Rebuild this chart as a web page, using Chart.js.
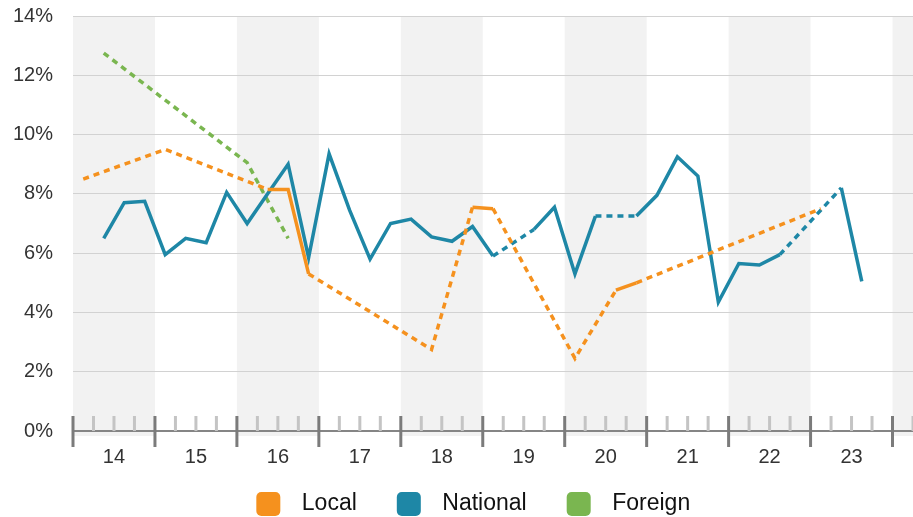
<!DOCTYPE html>
<html>
<head>
<meta charset="utf-8">
<script src="https://cdn.jsdelivr.net/npm/chart.js@4/dist/chart.umd.min.js"></script>
<style>
  html, body { margin: 0; padding: 0; background: #fff; }
  #wrap { width: 913px; height: 517px; }
</style>
</head>
<body>
<div id="wrap"><canvas id="c" width="913" height="517"></canvas></div>
<script>
// ---- data ----
const quarters = [
  '14Q1','14Q2','14Q3','14Q4','15Q1','15Q2','15Q3','15Q4',
  '16Q1','16Q2','16Q3','16Q4','17Q1','17Q2','17Q3','17Q4',
  '18Q1','18Q2','18Q3','18Q4','19Q1','19Q2','19Q3','19Q4',
  '20Q1','20Q2','20Q3','20Q4','21Q1','21Q2','21Q3','21Q4',
  '22Q1','22Q2','22Q3','22Q4','23Q1','23Q2','23Q3','23Q4',
  '24Q1'
];
const yearLabels = ['14','15','16','17','18','19','20','21','22','23'];
const seriesNames = ['Local','National','Foreign'];

const local = [
  8.5, null, null, null, 9.5, null, null, null,
  null, 8.15, 8.15, 5.3, null, null, null, null,
  null, 2.75, null, 7.55, 7.5, null, null, null,
  2.45, null, 4.75, 5.0, null, null, null, null,
  null, null, null, null, 7.5, null, null, null,
  null
];
const national = [
  null, 6.5, 7.7, 7.75, 5.95, 6.5, 6.35, 8.05,
  7.0, 8.0, 9.0, 5.85, 9.35, 7.45, 5.8, 7.0,
  7.15, 6.55, 6.4, 6.9, 5.9, null, 6.8, 7.55,
  5.3, 7.25, null, 7.25, 7.95, 9.25, 8.6, 4.35,
  5.65, 5.6, 5.95, null, null, 8.2, 5.05, null,
  null
];
const foreign = [
  null, 12.75, null, null, null, null, null, null,
  9.05, null, 6.5, null, null, null, null, null,
  null, null, null, null, null, null, null, null,
  null, null, null, null, null, null, null, null,
  null, null, null, null, null, null, null, null,
  null
];

// ---- styling ----
const COLORS = ['#F5911E', '#1E87A6', '#7AB650'];
const FIRST_YEAR = 14;
const PER_YEAR = 4;
const FONT = 'Liberation Sans, Arial, Helvetica, sans-serif';
const LEGEND_LEAD = 15.5;   // empty space before each legend swatch
const LEGEND_SHIFT = 9;     // horizontal nudge of the legend block
const SWATCH = 24;

function toPoints(arr) {
  return arr.map((v, i) => ({ x: FIRST_YEAR + (i + 0.5) / PER_YEAR, y: v, q: quarters[i] }));
}
const gapDash = ctx => (ctx.p0.skip || ctx.p1.skip) ? [6, 5] : undefined;

function makeDataset(label, arr, color) {
  return {
    label: label,
    data: toPoints(arr),
    borderColor: color,
    backgroundColor: color,
    borderWidth: 3.5,
    pointRadius: 0,
    pointHoverRadius: 0,
    tension: 0,
    spanGaps: true,
    borderJoinStyle: 'miter',
    segment: { borderDash: gapDash }
  };
}

const axisDecor = {
  id: 'axisDecor',
  afterLayout(chart) {
    if (chart.legend) {
      chart.legend.left += LEGEND_SHIFT;
      chart.legend.right += LEGEND_SHIFT;
    }
  },
  beforeDraw(chart) {
    const { ctx, chartArea: a, scales: { x } } = chart;
    ctx.save();
    ctx.fillStyle = '#f2f2f2';
    for (let i = 0; i < yearLabels.length + 1; i += 2) {
      const l = x.getPixelForValue(FIRST_YEAR + i);
      const r = Math.min(x.getPixelForValue(FIRST_YEAR + i + 1), a.right);
      if (r > l) ctx.fillRect(l, a.top, r - l, a.bottom + 5 - a.top);
    }
    ctx.restore();
  },
  beforeDatasetsDraw(chart) {
    const { ctx, chartArea: a, scales: { x } } = chart;
    ctx.save();
    // axis line
    ctx.strokeStyle = '#858585';
    ctx.lineWidth = 2;
    ctx.beginPath();
    ctx.moveTo(a.left, a.bottom);
    ctx.lineTo(a.right, a.bottom);
    ctx.stroke();
    // minor ticks
    ctx.strokeStyle = '#c4c4c4';
    ctx.lineWidth = 3;
    for (let i = 0; i <= yearLabels.length; i++) {
      for (let q = 1; q < PER_YEAR; q++) {
        const px = x.getPixelForValue(FIRST_YEAR + i + q / PER_YEAR);
        if (px > a.right) continue;
        ctx.beginPath();
        ctx.moveTo(px, a.bottom - 15);
        ctx.lineTo(px, a.bottom);
        ctx.stroke();
      }
    }
    // major ticks
    ctx.strokeStyle = '#7b7b7b';
    for (let i = 0; i <= yearLabels.length; i++) {
      const px = x.getPixelForValue(FIRST_YEAR + i);
      if (px > a.right + 1) continue;
      ctx.beginPath();
      ctx.moveTo(px, a.bottom - 15);
      ctx.lineTo(px, a.bottom + 16);
      ctx.stroke();
    }
    ctx.restore();
  },
  afterDraw(chart) {
    const lg = chart.legend;
    if (!lg || !lg.legendHitBoxes) return;
    const { ctx } = chart;
    ctx.save();
    lg.legendHitBoxes.forEach((hb, i) => {
      const top = hb.top + (hb.height - SWATCH) / 2;
      const left = hb.left + LEGEND_LEAD;
      ctx.fillStyle = COLORS[i];
      ctx.beginPath();
      if (ctx.roundRect) ctx.roundRect(left, top, SWATCH, SWATCH, 5);
      else ctx.rect(left, top, SWATCH, SWATCH);
      ctx.fill();
    });
    ctx.restore();
  }
};

new Chart(document.getElementById('c'), {
  type: 'line',
  data: {
    datasets: [
      makeDataset(seriesNames[0], local, COLORS[0]),
      makeDataset(seriesNames[1], national, COLORS[1]),
      makeDataset(seriesNames[2], foreign, COLORS[2])
    ]
  },
  options: {
    responsive: false,
    animation: false,
    devicePixelRatio: 1,
    layout: { padding: { top: 16, right: 0, bottom: 0, left: 0 } },
    scales: {
      x: {
        type: 'linear',
        min: FIRST_YEAR,
        max: FIRST_YEAR + (quarters.length) / PER_YEAR,
        grid: { display: false, drawTicks: false },
        border: { display: false },
        afterBuildTicks(axis) {
          axis.ticks = yearLabels.map((_, i) => ({ value: FIRST_YEAR + i + 0.5 }));
        },
        afterFit(scale) { scale.height = 36.5; },
        ticks: {
          autoSkip: false,
          maxRotation: 0,
          padding: 14.5,
          color: '#333',
          font: { family: FONT, size: 20 },
          callback: (v, i) => yearLabels[i]
        }
      },
      y: {
        min: 0,
        max: 14,
        grid: { color: '#d2d2d2', lineWidth: 1, drawTicks: true, tickLength: 20, tickColor: 'rgba(0,0,0,0)' },
        border: { display: false },
        afterFit(scale) { scale.width = 73; },
        ticks: {
          stepSize: 2,
          padding: 0,
          color: '#333',
          font: { family: FONT, size: 20 },
          callback: v => v + '%'
        }
      }
    },
    plugins: {
      tooltip: { enabled: false },
      legend: {
        position: 'bottom',
        align: 'center',
        maxHeight: 49.5,
        labels: {
          boxWidth: LEGEND_LEAD + 34,
          boxHeight: SWATCH,
          padding: 24.5,
          color: '#111',
          font: { family: FONT, size: 23 },
          generateLabels(chart) {
            const items = Chart.defaults.plugins.legend.labels.generateLabels(chart);
            items.forEach(it => {
              it.fillStyle = 'rgba(0,0,0,0)';
              it.strokeStyle = 'rgba(0,0,0,0)';
              it.lineWidth = 0;
              it.lineDash = [];
            });
            return items;
          }
        }
      }
    }
  },
  plugins: [axisDecor]
});
</script>
</body>
</html>
